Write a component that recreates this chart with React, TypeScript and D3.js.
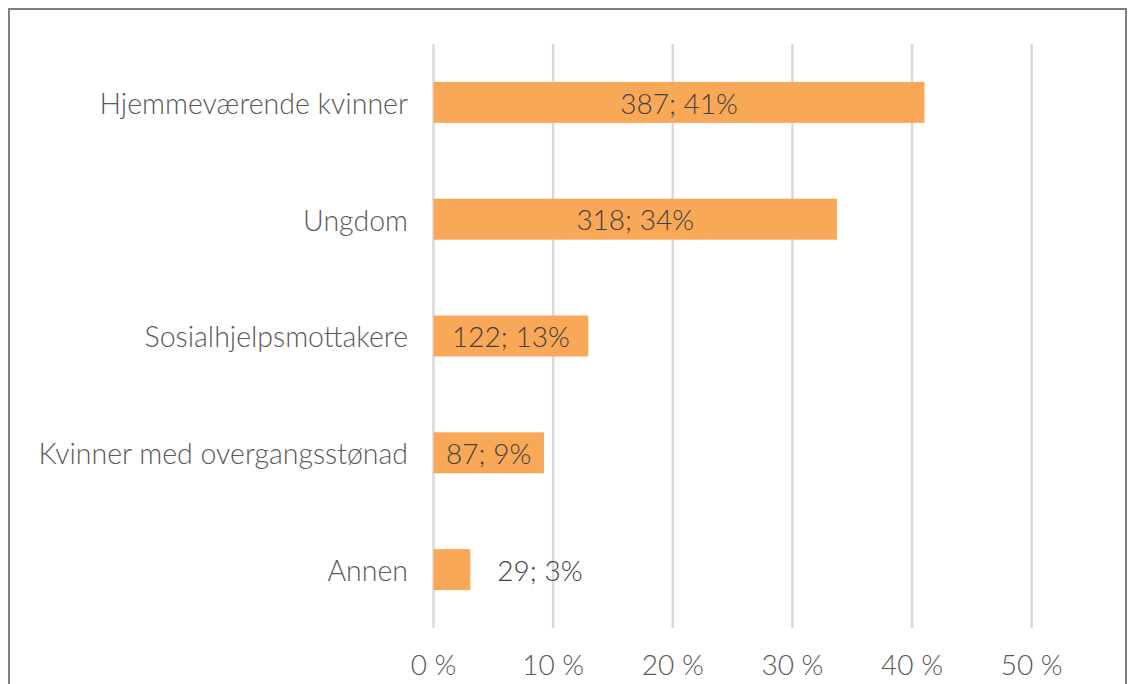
import React from "react";
import * as d3 from "d3";

const categories = [
  "Hjemmeværende kvinner",
  "Ungdom",
  "Sosialhjelpsmottakere",
  "Kvinner med overgangsstønad",
  "Annen",
];
const counts = [387, 318, 122, 87, 29];
const percents = [41.04, 33.72, 12.94, 9.23, 3.08];
const percentLabels = ["41%", "34%", "13%", "9%", "3%"];
const labelModes = ["center", "center", "center", "center", "outside"];
const tickValues = [0, 10, 20, 30, 40, 50];
const tickLabels = ["0 %", "10 %", "20 %", "30 %", "40 %", "50 %"];

const W = 1128;
const H = 684;
const FONT = "Lato, 'Open Sans', sans-serif";

export default function App() {
  const x = d3.scaleLinear().domain([0, 50]).range([433.5, 1031.7]);
  const y = d3
    .scaleBand<string>()
    .domain(categories)
    .range([44, 628])
    .paddingInner(0.649)
    .paddingOuter(0.3245);
  const bw = y.bandwidth();

  return (
    <svg
      width={W}
      height={H}
      style={{ position: "absolute", left: 0, top: 0, background: "#fff" }}
    >
      <rect x={9} y={9} width={1117} height={700} fill="#fff" stroke="#7f7f7f" strokeWidth={2} />
      {tickValues.map((t, i) => (
        <g key={t}>
          <line x1={x(t)} x2={x(t)} y1={44} y2={628} stroke="#d9d9d9" strokeWidth={2.5} />
          <text
            x={x(t)}
            y={675}
            textAnchor="middle"
            fontFamily={FONT}
            fontSize={28}
            fontWeight={300}
            fill="#595959"
          >
            {tickLabels[i]}
          </text>
        </g>
      ))}
      {categories.map((c, i) => {
        const y0 = y(c)!;
        const xe = x(percents[i]);
        const label = `${counts[i]}; ${percentLabels[i]}`;
        const outside = labelModes[i] === "outside";
        return (
          <g key={c}>
            <rect x={x(0)} y={y0} width={xe - x(0)} height={bw} fill="#f9a857" />
            <text
              x={408}
              y={y0 + bw / 2}
              dy="0.4em"
              textAnchor="end"
              fontFamily={FONT}
              fontSize={28.5}
              fontWeight={300}
              fill="#595959"
            >
              {c}
            </text>
            <text
              x={outside ? xe + 27 : (x(0) + xe) / 2}
              y={y0 + bw / 2}
              dy="0.4em"
              textAnchor={outside ? "start" : "middle"}
              fontFamily={FONT}
              fontSize={28}
              fontWeight={300}
              fill="#404040"
            >
              {label}
            </text>
          </g>
        );
      })}
    </svg>
  );
}
